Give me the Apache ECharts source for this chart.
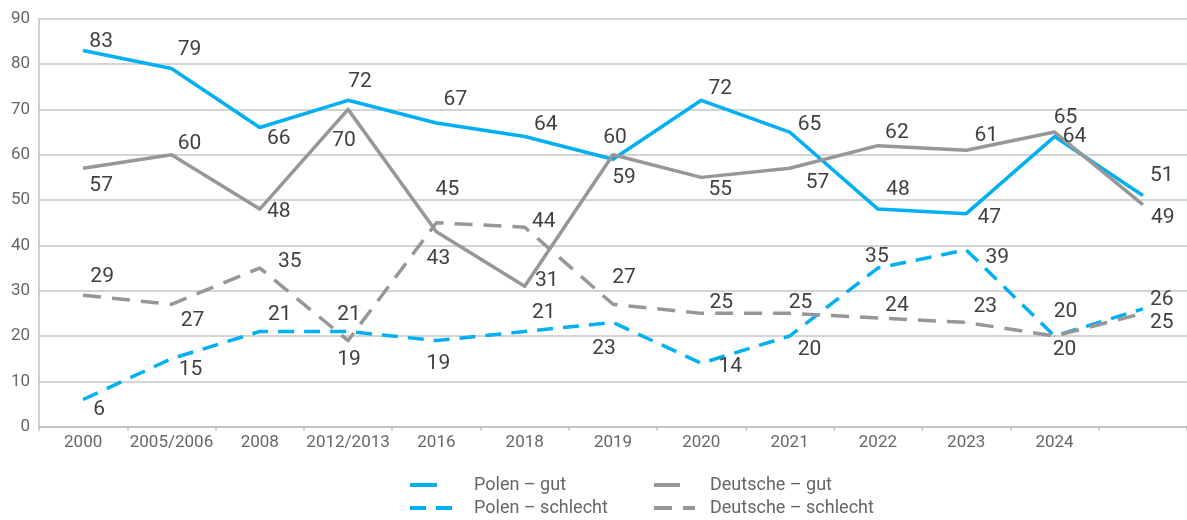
<!DOCTYPE html>
<html>
<head>
<meta charset="utf-8">
<script src="https://cdn.jsdelivr.net/npm/echarts@6/dist/echarts.min.js"></script>
<style>
html,body{margin:0;padding:0;background:#fff;}
#chart{width:1187px;height:520px;}
</style>
</head>
<body>
<div id="chart"></div>
<script>
// ---- data ----
const categories = ['2000','2005/2006','2008','2012/2013','2016','2018','2019','2020','2021','2022','2023','2024',''];
const yTicks = [0,10,20,30,40,50,60,70,80,90];
const polenGut = [83,79,66,72,67,64,59,72,65,48,47,64,51];
const deutscheGut = [57,60,48,70,43,31,60,55,57,62,61,65,49];
const polenSchlecht = [6,15,21,21,19,21,23,14,20,35,39,20,26];
const deutscheSchlecht = [29,27,35,19,45,44,27,25,25,24,23,20,25];
const seriesNames = ['Polen – gut','Polen – schlecht','Deutsche – gut','Deutsche – schlecht'];

// ---- label placement (style) ----
const polenGutOff = [[18,-9],[18,-19],[19,11],[12,-19],[19,-23],[21,-12],[11,19],[19,-12],[20,-7],[20,-19],[23,4],[20,0],[19,-20]];
const deutscheGutOff = [[18,17],[18,-11],[19,3],[-4,31],[2,27],[22,-5],[2,-17],[19,12],[28,14],[19,-13],[20,-14],[11,-14],[20,13]];
const polenSchlechtOff = [[16,10],[19,11],[20,-17],[1,-17],[2,23],[19,-19],[-9,26],[29,4],[20,14],[-1,-11],[31,8],[11,-24],[19,-9]];
const deutscheSchlechtOff = [[19,-18],[21,16],[30,-6],[1,19],[11,-33],[19,-5],[11,-27],[20,-11],[11,-11],[19,-12],[19,-16],[10,14],[19,9]];

const BLUE = '#00b0f0';
const GRAY = '#979799';
const FONT = 'Roboto';

function withLabels(values, offs) {
  return values.map((v, i) => ({ value: v, label: { offset: offs[i] } }));
}

function mkSeries(name, values, offs, color, dashed, dash) {
  return {
    name: name,
    type: 'line',
    data: withLabels(values, offs),
    symbol: 'circle',
    symbolSize: 1,
    showSymbol: true,
    itemStyle: { color: color },
    lineStyle: { color: color, width: 3.5, type: dashed ? dash : 'solid', cap: 'butt', join: 'round' },
    label: {
      show: true,
      position: 'inside',
      align: 'center',
      verticalAlign: 'middle',
      color: '#404040',
      fontSize: 21,
      fontFamily: FONT
    },
    emphasis: { disabled: true },
    animation: false,
    z: dashed ? 2 : 3
  };
}

function mkLegend(name, left, top, w, pad) {
  return {
    data: [name],
    left: left,
    top: top,
    orient: 'horizontal',
    itemWidth: w,
    itemHeight: 12,
    padding: 0,
    selectedMode: false,
    itemStyle: { opacity: 0, borderWidth: 0 },
    lineStyle: { width: 4 },
    textStyle: { color: '#666', fontSize: 18, fontFamily: FONT, padding: [0, 0, 0, pad] }
  };
}

const chart = echarts.init(document.getElementById('chart'), null, { renderer: 'canvas' });
chart.setOption({
  backgroundColor: '#fff',
  animation: false,
  grid: { left: 39, right: -10, top: 18.7, bottom: 93.3, containLabel: false },
  legend: [
    mkLegend(seriesNames[0], 408, 476, 27, 32),
    mkLegend(seriesNames[1], 408, 499, 52, 7),
    mkLegend(seriesNames[2], 652, 476, 26, 25),
    mkLegend(seriesNames[3], 652, 499, 41, 10)
  ],
  xAxis: {
    type: 'category',
    data: categories,
    boundaryGap: true,
    axisLine: { show: true, lineStyle: { color: '#c0c0c0', width: 1.5 } },
    axisTick: { show: true, length: 4, lineStyle: { color: '#c0c0c0', width: 1.5 }, alignWithLabel: false },
    axisLabel: { color: '#666', fontSize: 17, fontFamily: FONT, margin: 8, interval: 0 },
    splitLine: { show: false }
  },
  yAxis: {
    type: 'value',
    min: yTicks[0],
    max: yTicks[yTicks.length - 1],
    interval: yTicks[1] - yTicks[0],
    axisLine: { show: true, lineStyle: { color: '#c0c0c0', width: 1.5 } },
    axisTick: { show: false },
    axisLabel: { color: '#666', fontSize: 17, fontFamily: FONT, margin: 9 },
    splitLine: { show: true, lineStyle: { color: '#c6c6c6', width: 1.5 } }
  },
  series: [
    mkSeries(seriesNames[1], polenSchlecht, polenSchlechtOff, BLUE, true, [16, 10]),
    mkSeries(seriesNames[3], deutscheSchlecht, deutscheSchlechtOff, GRAY, true, [18, 11]),
    mkSeries(seriesNames[0], polenGut, polenGutOff, BLUE, false),
    mkSeries(seriesNames[2], deutscheGut, deutscheGutOff, GRAY, false)
  ]
});
</script>
</body>
</html>
